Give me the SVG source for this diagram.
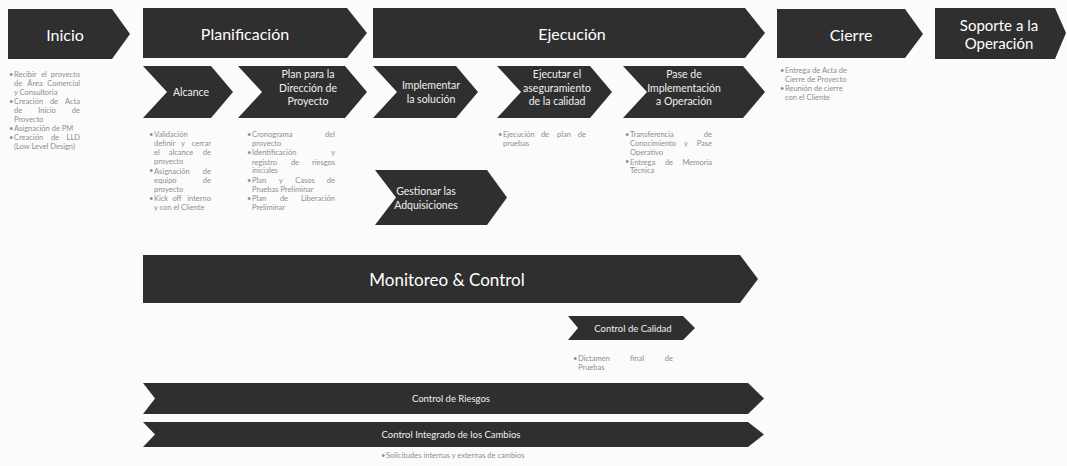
<svg xmlns="http://www.w3.org/2000/svg" width="1067" height="466" viewBox="0 0 1067 466">
<style>
.ch{fill:#2f2f2f}
.h{font-family:Lato,"Open Sans","Liberation Sans",sans-serif;fill:#ffffff;text-anchor:middle;dominant-baseline:central}
.hl{font-size:16px}
.hm{font-size:17px}
.s{font-size:10.5px;fill:#f0f0f0}
.sm{font-size:9.5px;fill:#f0f0f0}
.b{font-family:Lato,"Open Sans","Liberation Sans",sans-serif;font-size:7.5px;fill:#8e8e8e;dominant-baseline:central}
.m{text-anchor:middle}
.e{text-anchor:end}
</style>
<rect width="1067" height="466" fill="#fbfbfb"/>

<g id="inicio">
<polygon class="ch" points="8,9 112,9 130,34 112,59 8,59"/>
<text class="h hl" x="65" y="34">Inicio</text>
<text class="b" x="9" y="74">•</text>
<text class="b" y="74"><tspan x="14">Recibir</tspan><tspan x="44" class="m">el</tspan><tspan x="80" class="e">proyecto</tspan></text>
<text class="b" y="83"><tspan x="14">de</tspan><tspan x="35" class="m">Área</tspan><tspan x="80" class="e">Comercial</tspan></text>
<text class="b" x="14" y="92">y Consultoría</text>
<text class="b" x="9" y="101">•</text>
<text class="b" y="101"><tspan x="14">Creación</tspan><tspan x="54" class="m">de</tspan><tspan x="80" class="e">Acta</tspan></text>
<text class="b" y="110"><tspan x="14">de</tspan><tspan x="47" class="m">Inicio</tspan><tspan x="80" class="e">de</tspan></text>
<text class="b" x="14" y="119">Proyecto</text>
<text class="b" x="9" y="128">•</text>
<text class="b" x="14" y="128">Asignación de PM</text>
<text class="b" x="9" y="137">•</text>
<text class="b" y="137"><tspan x="14">Creación</tspan><tspan x="55" class="m">de</tspan><tspan x="80" class="e">LLD</tspan></text>
<text class="b" x="14" y="146">(Low Level Design)</text>
</g>

<g id="planificacion">
<polygon class="ch" points="143,8 347,8 367,33 347,58 143,58"/>
<text class="h hl" x="245" y="33">Planificación</text>
</g>

<g id="alcance">
<polygon class="ch" points="143,66 211,66 233,92 211,118 143,118 167,92"/>
<text class="h s" x="191" y="92">Alcance</text>
<text class="b" x="149" y="134">•</text>
<text class="b" x="154" y="134">Validación</text>
<text class="b" y="143.2"><tspan x="154">definir</tspan><tspan x="183" class="m">y</tspan><tspan x="211" class="e">cerrar</tspan></text>
<text class="b" y="152.4"><tspan x="154">el</tspan><tspan x="181" class="m">alcance</tspan><tspan x="211" class="e">de</tspan></text>
<text class="b" x="154" y="161.6">proyecto</text>
<text class="b" x="149" y="170.8">•</text>
<text class="b" y="170.8"><tspan x="154">Asignación</tspan><tspan x="211" class="e">de</tspan></text>
<text class="b" y="180"><tspan x="154">equipo</tspan><tspan x="211" class="e">de</tspan></text>
<text class="b" x="154" y="189.2">proyecto</text>
<text class="b" x="149" y="198.4">•</text>
<text class="b" y="198.4"><tspan x="154">Kick</tspan><tspan x="177" class="m">off</tspan><tspan x="211" class="e">interno</tspan></text>
<text class="b" x="154" y="207.6">y con el Cliente</text>
</g>

<g id="plan-direccion">
<polygon class="ch" points="238,66 345,66 367,92 345,118 238,118 262,92"/>
<text class="h s" x="308" y="74">Plan para la</text>
<text class="h s" x="308" y="87.5">Dirección de</text>
<text class="h s" x="308" y="101">Proyecto</text>
<text class="b" x="247" y="134">•</text>
<text class="b" y="134"><tspan x="252">Cronograma</tspan><tspan x="335" class="e">del</tspan></text>
<text class="b" x="252" y="143.2">proyecto</text>
<text class="b" x="247" y="152.4">•</text>
<text class="b" y="152.4"><tspan x="252">Identificación</tspan><tspan x="335" class="e">y</tspan></text>
<text class="b" y="161.6"><tspan x="252">registro</tspan><tspan x="295" class="m">de</tspan><tspan x="335" class="e">riesgos</tspan></text>
<text class="b" x="252" y="170.8">iniciales</text>
<text class="b" x="247" y="180">•</text>
<text class="b" y="180"><tspan x="252">Plan</tspan><tspan x="281" class="m">y</tspan><tspan x="305" class="m">Casos</tspan><tspan x="335" class="e">de</tspan></text>
<text class="b" x="252" y="189.2">Pruebas Preliminar</text>
<text class="b" x="247" y="198.4">•</text>
<text class="b" y="198.4"><tspan x="252">Plan</tspan><tspan x="284" class="m">de</tspan><tspan x="335" class="e">Liberación</tspan></text>
<text class="b" x="252" y="207.6">Preliminar</text>
</g>

<g id="ejecucion">
<polygon class="ch" points="373,8 745,8 765,33 745,58 373,58"/>
<text class="h hl" x="572" y="33">Ejecución</text>
</g>

<g id="implementar">
<polygon class="ch" points="373,66 456,66 478,92 456,118 373,118 397,92"/>
<text class="h s" x="431" y="85">Implementar</text>
<text class="h s" x="431" y="98.5">la solución</text>
</g>

<g id="ejecutar-calidad">
<polygon class="ch" points="497,66 590,66 612,92 590,118 497,118 521,92"/>
<text class="h s" x="557" y="74">Ejecutar el</text>
<text class="h s" x="557" y="87.5">aseguramiento</text>
<text class="h s" x="557" y="101">de la calidad</text>
<text class="b" x="498" y="134">•</text>
<text class="b" y="134"><tspan x="503">Ejecución</tspan><tspan x="545" class="m">de</tspan><tspan x="564" class="m">plan</tspan><tspan x="586" class="e">de</tspan></text>
<text class="b" x="503" y="143.2">pruebas</text>
</g>

<g id="pase-operacion">
<polygon class="ch" points="623,66 743,66 765,92 743,118 623,118 647,92"/>
<text class="h s" x="684" y="74">Pase de</text>
<text class="h s" x="684" y="87.5">Implementación</text>
<text class="h s" x="684" y="101">a Operación</text>
<text class="b" x="625" y="134">•</text>
<text class="b" y="134"><tspan x="630">Transferencia</tspan><tspan x="712" class="e">de</tspan></text>
<text class="b" y="143.2"><tspan x="630">Conocimiento</tspan><tspan x="686" class="m">y</tspan><tspan x="712" class="e">Pase</tspan></text>
<text class="b" x="630" y="152.4">Operativo</text>
<text class="b" x="625" y="161.6">•</text>
<text class="b" y="161.6"><tspan x="630">Entrega</tspan><tspan x="669" class="m">de</tspan><tspan x="712" class="e">Memoria</tspan></text>
<text class="b" x="630" y="170.8">Técnica</text>
</g>

<g id="gestionar">
<polygon class="ch" points="375,170 487,170 507,197.5 487,225 375,225 396,197.5"/>
<text class="h s" x="426" y="191">Gestionar las</text>
<text class="h s" x="426" y="204.5">Adquisiciones</text>
</g>

<g id="cierre">
<polygon class="ch" points="777,9 905,9 923,34 905,58 777,58"/>
<text class="h hl" x="851" y="34">Cierre</text>
<text class="b" x="780" y="70">•</text>
<text class="b" x="785" y="70">Entrega de Acta de</text>
<text class="b" x="785" y="79">Cierre de Proyecto</text>
<text class="b" x="780" y="88">•</text>
<text class="b" x="785" y="88">Reunión de cierre</text>
<text class="b" x="785" y="97">con el Cliente</text>
</g>

<g id="soporte">
<polygon class="ch" points="935,8 1055,8 1066,33 1055,59 935,59"/>
<text class="h" style="font-size:15px" x="999" y="25">Soporte a la</text>
<text class="h" style="font-size:15px" x="999" y="43">Operación</text>
</g>

<g id="monitoreo">
<polygon class="ch" points="143,255 740,255 758,279 740,303 143,303"/>
<text class="h hm" x="447" y="279">Monitoreo &amp; Control</text>
</g>

<g id="control-calidad">
<polygon class="ch" points="568,316 683,316 695,328 683,340 568,340 578,328"/>
<text class="h sm" x="633" y="328">Control de Calidad</text>
<text class="b" x="573" y="358">•</text>
<text class="b" y="358"><tspan x="578">Dictamen</tspan><tspan x="637" class="m">final</tspan><tspan x="673" class="e">de</tspan></text>
<text class="b" x="578" y="367">Pruebas</text>
</g>

<g id="control-riesgos">
<polygon class="ch" points="143,383 748,383 764,398.5 748,414 143,414 155,398.5"/>
<text class="h sm" x="451" y="398.5">Control de  Riesgos</text>
</g>

<g id="control-cambios">
<polygon class="ch" points="143,422 748,422 764,434.5 748,447 143,447 155,434.5"/>
<text class="h sm" x="451" y="434.5">Control Integrado de los Cambios</text>
<text class="b" x="381" y="455">•</text>
<text class="b" x="386" y="455">Solicitudes internas y externas de cambios</text>
</g>

<g id="connectors"/>
</svg>
